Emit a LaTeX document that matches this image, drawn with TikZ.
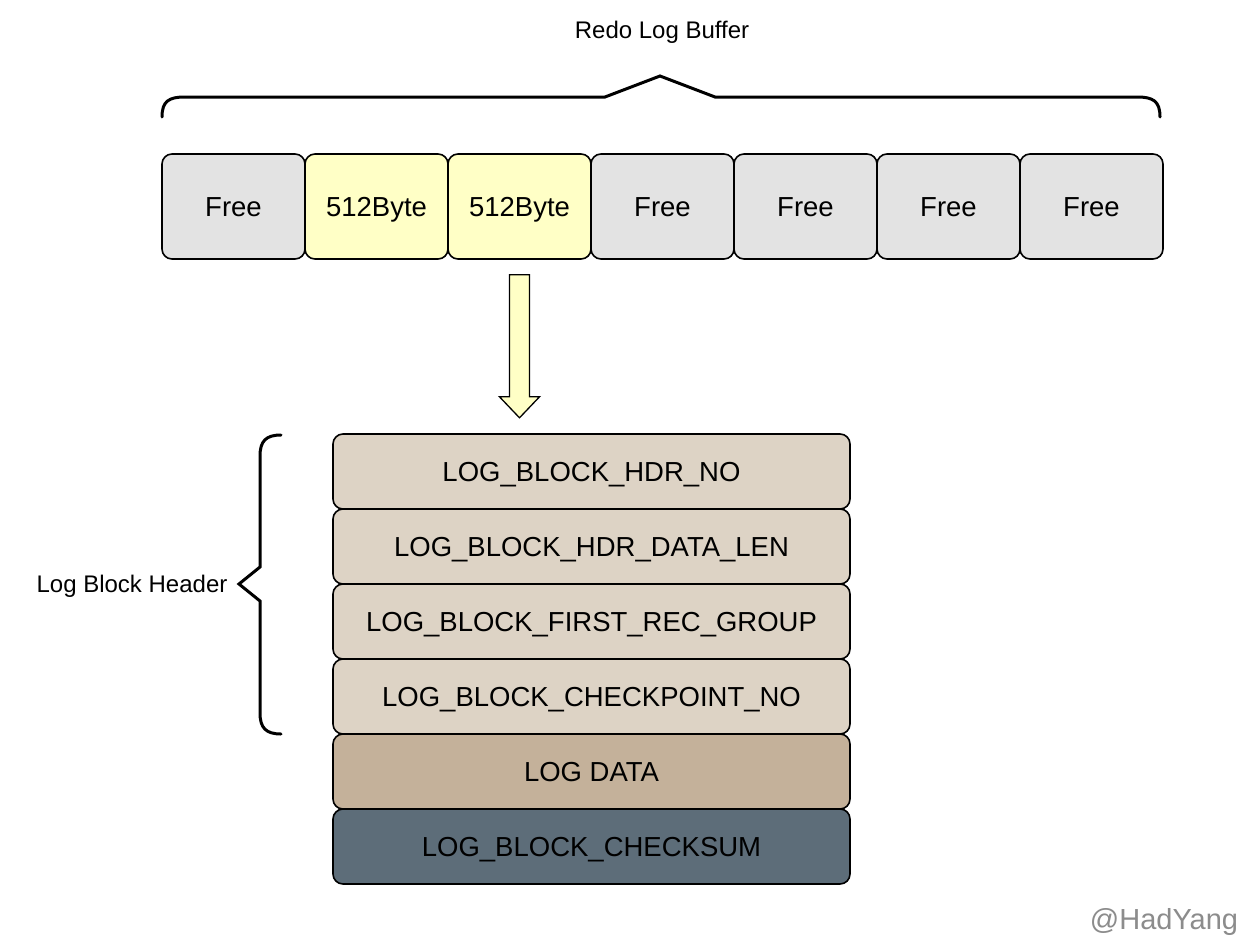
\documentclass[tikz,border=0pt]{standalone}
\usepackage{fontspec}
\setmainfont{Liberation Sans}
\usetikzlibrary{calc}
\definecolor{freeC}{HTML}{E3E3E3}
\definecolor{yelC}{HTML}{FFFFC6}
\definecolor{hdrC}{HTML}{DDD3C5}
\definecolor{dataC}{HTML}{C4B19A}
\definecolor{sumC}{HTML}{5D6D79}
\definecolor{markC}{HTML}{8C8C8C}
\begin{document}
\begin{tikzpicture}[x=1pt,y=-1pt,
  cell/.style={draw=black, line width=1.6pt, rounded corners=10pt, minimum width=143pt, minimum height=105pt, inner sep=0pt, text height=20pt, text depth=0pt, font=\fontsize{27.5}{32}\selectfont},
  freecell/.style={cell, fill=freeC},
  usedcell/.style={cell, fill=yelC},
  row/.style={cell, minimum width=517pt, minimum height=75pt},
  hdrrow/.style={row, fill=hdrC},
  lbl/.style={font=\fontsize{24}{28}\selectfont, inner sep=0pt, text height=17pt, text depth=0pt},
  bracestyle/.style={line width=3pt, line cap=round, line join=miter},
  blockarrow/.style={draw=black, line width=1.3pt, fill=yelC, line join=miter}]
\useasboundingbox[fill=white] (0,0) rectangle (1242,942);

% top buffer
\node[freecell] (b1) at (233.5,206.5) {Free};
\node[usedcell] (b2) at (376.5,206.5) {512Byte};
\node[usedcell] (b3) at (519.5,206.5) {512Byte};
\node[freecell] (b4) at (662.5,206.5) {Free};
\node[freecell] (b5) at (805.5,206.5) {Free};
\node[freecell] (b6) at (948.5,206.5) {Free};
\node[freecell] (b7) at (1091.5,206.5) {Free};

\node[lbl] (title) at (662,30.5) {Redo Log Buffer};
\draw[bracestyle] (162,117) .. controls (162,101) and (169,97) .. (185,97) -- (605,97) -- (660,76) -- (715,97) -- (1137,97) .. controls (1153,97) and (1160,101) .. (1160,117);

% log block stack
\node[hdrrow] (r1) at (591.5,471.5) {LOG\_BLOCK\_HDR\_NO};
\node[hdrrow] (r2) at (591.5,546.5) {LOG\_BLOCK\_HDR\_DATA\_LEN};
\node[hdrrow] (r3) at (591.5,621.5) {LOG\_BLOCK\_FIRST\_REC\_GROUP};
\node[hdrrow] (r4) at (591.5,696.5) {LOG\_BLOCK\_CHECKPOINT\_NO};
\node[row, fill=dataC] (r5) at (591.5,771.5) {LOG DATA};
\node[row, fill=sumC] (r6) at (591.5,846.5) {LOG\_BLOCK\_CHECKSUM};

% block arrow from b3 down toward stack
\path (b3.south) ++(0,15) coordinate (atop);
\draw[blockarrow] (atop) ++(-10,0) -- ++(20,0) -- ++(0,122) -- ++(10,0) -- ++(-20,21) -- ++(-20,-21) -- ++(10,0) -- cycle;

% left brace
\node[lbl] (hdrlbl) at (132,583.5) {Log Block Header};
\draw[bracestyle] (281,435) .. controls (266,435) and (260,441) .. (260,456) -- (260,567) -- (239,584) -- (260,601) -- (260,713) .. controls (260,728) and (266,734) .. (281,734);

% watermark
\node[font=\fontsize{29}{34}\selectfont, text=markC, inner sep=0pt] (mark) at (1164,922) {@HadYang};
\end{tikzpicture}
\end{document}
